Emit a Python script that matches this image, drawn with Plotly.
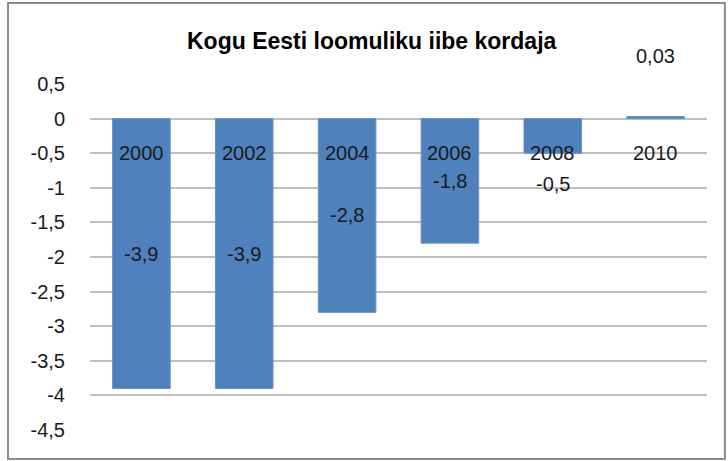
import plotly.graph_objects as go

years = ["2000", "2002", "2004", "2006", "2008", "2010"]
values = [-3.9, -3.9, -2.8, -1.8, -0.5, 0.03]
value_labels = ["-3,9", "-3,9", "-2,8", "-1,8", "-0,5", "0,03"]
y_ticks = [0.5, 0, -0.5, -1, -1.5, -2, -2.5, -3, -3.5, -4, -4.5]
y_tick_labels = ["0,5", "0", "-0,5", "-1", "-1,5", "-2", "-2,5", "-3", "-3,5", "-4", "-4,5"]
title_text = "Kogu Eesti loomuliku iibe kordaja"

FONT = "Liberation Sans"
TXT = "#1a1a1a"
Y_MIN, Y_MAX = -4.5, 0.5


def to_paper(v):
    return (v - Y_MIN) / (Y_MAX - Y_MIN)


fig = go.Figure()
fig.add_trace(go.Bar(
    x=years, y=values,
    marker=dict(color="#4F81BD", line=dict(color="#6a93c8", width=1)),
    width=0.56,
    hoverinfo="skip",
))

annotations = []
# category labels placed inside the plot just below the zero line
for i, yr in enumerate(years):
    annotations.append(dict(x=i, y=-0.5, xref="x", yref="y", text=yr,
                            xanchor="center", yanchor="middle",
                            showarrow=False, font=dict(family=FONT, size=20, color=TXT)))
# value labels
for i, (v, lab) in enumerate(zip(values, value_labels)):
    if v <= -1:
        ly = v / 2
    elif v < 0:
        ly = v - 0.45
    else:
        ly = v + 0.87
    annotations.append(dict(x=i, y=to_paper(ly), xref="x", yref="paper", text=lab,
                            xanchor="center", yanchor="middle",
                            showarrow=False, font=dict(family=FONT, size=20, color=TXT)))

annotations.append(dict(x=0.457, y=1.124, xref="paper", yref="paper", text=title_text,
                        showarrow=False, xanchor="center", yanchor="middle",
                        font=dict(family=FONT, size=23, color="#000000", weight="bold")))

fig.update_layout(
    width=728, height=461,
    margin=dict(l=90, r=21, t=84, b=31, pad=0),
    paper_bgcolor="white", plot_bgcolor="white",
    showlegend=False,
    annotations=annotations,
    shapes=[dict(type="rect", xref="paper", yref="paper",
                 x0=-0.1329, x1=1.029, y0=-0.0838, y1=1.234,
                 line=dict(color="#8c8c8c", width=2), fillcolor="rgba(0,0,0,0)", layer="below")],
    xaxis=dict(type="category", showticklabels=False, showgrid=False, zeroline=False,
               showline=False, ticks="", fixedrange=True, range=[-0.5, 5.5]),
    yaxis=dict(range=[Y_MIN, Y_MAX], tickvals=y_ticks, ticktext=y_tick_labels,
               showgrid=True, gridcolor="#bfbfbf", gridwidth=2,
               zeroline=False, showline=False, ticks="",
               ticklabelstandoff=24, automargin=False,
               tickfont=dict(family=FONT, size=20, color=TXT)),
)

fig.write_html("out.html", config={"displayModeBar": False},
               post_script="document.body.style.margin='0';")
